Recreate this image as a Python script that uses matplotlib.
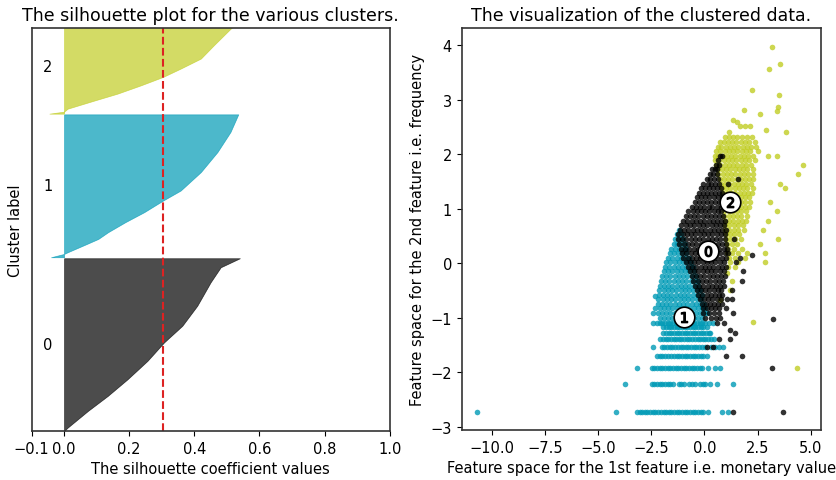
import matplotlib
matplotlib.use("Agg")
import matplotlib.pyplot as plt
import numpy as np

# silhouette profiles (sorted values), y = sample rank
sil0_y = [0, 34, 200, 350, 517, 700, 884, 1050, 1250, 1484, 1634, 1724]
sil0_v = [0.0, 0.011, 0.073, 0.134, 0.195, 0.256, 0.307, 0.363, 0.409, 0.450, 0.481, 0.540]
sil1_y = [1734, 1767, 1784, 1867, 1917, 1984, 2084, 2184, 2300, 2400, 2584, 2784, 2984, 3160]
sil1_v = [-0.04, 0.0, 0.011, 0.07, 0.105, 0.135, 0.188, 0.246, 0.304, 0.358, 0.420, 0.471, 0.511, 0.535]
sil2_y = [3167, 3187, 3217, 3300, 3367, 3450, 3534, 3617, 3717, 3850, 4017, 4117]
sil2_v = [-0.045, 0.0, 0.011, 0.095, 0.164, 0.236, 0.304, 0.358, 0.42, 0.46, 0.512, 0.55]
silhouette_avg = 0.304

# scatter points, grouped by the (discrete) frequency value: (y, [x, ...])
black_rows = [
    (1.97, [0.74, 0.82]), (1.89, [0.65]), (1.80, [0.55, 0.7]), (1.72, [0.35, 0.5, 0.6]),
    (1.63, [0.25, 0.42, 0.58]), (1.55, [0.1, 0.28, 0.45, 0.62, 1.6]),
    (1.46, [-0.05, 0.15, 0.33, 0.5, 0.7, 1.13]),
    (1.38, [-0.15, 0.05, 0.22, 0.42, 0.6, 0.78]),
    (1.29, [-0.25, -0.05, 0.14, 0.33, 0.52, 0.7, 0.85]),
    (1.21, [-0.35, -0.15, 0.05, 0.24, 0.44, 0.62, 0.82]),
    (1.12, [-0.45, -0.26, -0.06, 0.13, 0.33, 0.52, 0.7, 0.9]),
    (1.04, [-0.6, -0.4, -0.2, 0.0, 0.2, 0.38, 0.58, 0.76, 0.9]),
    (0.95, [-0.75, -0.55, -0.36, -0.16, 0.04, 0.24, 0.43, 0.62, 0.8]),
    (0.87, [-0.88, -0.68, -0.48, -0.28, -0.08, 0.12, 0.32, 0.52, 0.7, 0.88]),
    (0.78, [-1.0, -0.8, -0.6, -0.4, -0.2, 0.0, 0.2, 0.4, 0.6, 0.78, 0.95]),
    (0.70, [-1.08, -0.88, -0.68, -0.48, -0.27, -0.07, 0.14, 0.34, 0.54, 0.74, 0.92]),
    (0.61, [-1.15, -0.95, -0.75, -0.55, -0.35, -0.15, 0.05, 0.25, 0.45, 0.65, 0.85, 1.0]),
    (0.53, [-1.22, -1.02, -0.82, -0.62, -0.42, -0.22, -0.02, 0.18, 0.38, 0.58, 0.78, 0.98]),
    (0.44, [-1.25, -1.05, -0.85, -0.65, -0.45, -0.25, -0.05, 0.15, 0.35, 0.55, 0.75, 0.95, 1.37]),
    (0.36, [-1.18, -0.98, -0.78, -0.58, -0.38, -0.18, 0.02, 0.22, 0.42, 0.62, 0.82, 1.02]),
    (0.27, [-1.1, -0.9, -0.7, -0.5, -0.3, -0.1, 0.1, 0.3, 0.5, 0.7, 0.9, 1.08]),
    (0.19, [-1.05, -0.85, -0.65, -0.45, -0.25, -0.05, 0.15, 0.35, 0.55, 0.75, 0.95, 1.1]),
    (0.15, [2.23]),
    (0.10, [-0.99, -0.79, -0.59, -0.39, -0.19, 0.01, 0.21, 0.41, 0.61, 0.81, 1.0, 1.68]),
    (0.02, [-0.88, -0.68, -0.48, -0.28, -0.08, 0.12, 0.32, 0.52, 0.72, 0.92, 1.5]),
    (-0.07, [-0.78, -0.58, -0.38, -0.18, 0.02, 0.22, 0.42, 0.62, 0.82, 1.0]),
    (-0.15, [-0.68, -0.48, -0.28, -0.08, 0.12, 0.32, 0.52, 0.72, 0.9, 1.83]),
    (-0.24, [-0.6, -0.4, -0.2, 0.0, 0.2, 0.4, 0.6, 0.8, 0.95]),
    (-0.32, [-0.52, -0.32, -0.12, 0.08, 0.28, 0.48, 0.68, 0.86, 1.76]),
    (-0.41, [-0.45, -0.25, -0.05, 0.15, 0.35, 0.55, 0.75, 0.9]),
    (-0.49, [-0.37, -0.17, 0.03, 0.23, 0.43, 0.63, 0.8, 1.3]),
    (-0.58, [-0.3, -0.1, 0.1, 0.3, 0.5, 0.7, 0.85]),
    (-0.66, [-0.22, -0.02, 0.18, 0.38, 0.58, 0.76, 1.05, 1.29]),
    (-0.75, [-0.12, 0.08, 0.28, 0.46, 0.66, 0.85]),
    (-0.83, [-0.06, 0.12, 0.3, 0.5, 0.7, 1.0]),
    (-0.92, [-0.05, 0.2, 0.45, 0.7, 1.36]),
    (-1.00, [0.05, 0.3, 0.55, 0.75]), (-1.02, [3.24]), (-1.09, [0.6, 0.9]),
    (-1.22, [1.21]), (-1.28, [1.44]), (-1.39, [0.68, 1.21]), (-1.54, [0.14, 0.42]),
    (-1.70, [1.02, 1.79]), (-1.92, [3.17]), (-2.73, [1.36, 3.71]),
]

yellow_rows = [
    (3.97, [3.20]), (3.65, [3.56]), (3.57, [3.06]), (3.17, [2.24]), (3.08, [3.51]),
    (2.86, [3.45]), (2.81, [1.85]), (2.79, [3.40]), (2.73, [2.62]), (2.63, [1.36]),
    (2.60, [1.52]), (2.51, [1.68, 1.91, 2.15]), (2.45, [2.90]), (2.40, [1.18, 3.83]),
    (2.31, [0.95, 1.15, 1.35, 1.55, 1.78, 2.0, 2.25]),
    (2.23, [0.74, 0.92, 1.1, 1.3, 1.5, 1.7, 1.9, 2.1, 2.4]),
    (2.14, [0.62, 0.8, 1.0, 1.2, 1.4, 1.6, 1.8, 2.0, 2.2, 2.45]),
    (2.06, [0.55, 0.75, 0.95, 1.15, 1.35, 1.55, 1.75, 1.95, 2.15, 2.5]),
    (1.97, [0.48, 0.66, 0.86, 1.06, 1.26, 1.46, 1.66, 1.86, 2.06, 2.3, 3.0, 3.4]),
    (1.89, [0.5, 0.7, 0.9, 1.1, 1.3, 1.5, 1.7, 1.9, 2.1, 2.38]),
    (1.80, [0.55, 0.75, 0.95, 1.15, 1.35, 1.55, 1.75, 1.95, 2.2, 4.65]),
    (1.72, [0.62, 0.82, 1.02, 1.22, 1.42, 1.62, 1.82, 2.02, 2.3]),
    (1.63, [0.66, 0.86, 1.06, 1.26, 1.46, 1.66, 1.86, 2.06, 2.28, 4.42]),
    (1.55, [0.72, 0.92, 1.12, 1.32, 1.52, 1.72, 1.92, 2.12, 2.3]),
    (1.46, [0.78, 0.98, 1.18, 1.38, 1.58, 1.78, 1.98, 2.2, 3.56]),
    (1.38, [0.82, 1.02, 1.22, 1.42, 1.62, 1.82, 2.02, 2.28, 3.79]),
    (1.29, [0.86, 1.06, 1.26, 1.46, 1.66, 1.86, 2.06, 2.25]),
    (1.21, [0.9, 1.1, 1.3, 1.5, 1.7, 1.9, 2.1]),
    (1.12, [0.92, 1.12, 1.32, 1.52, 1.72, 1.92, 2.15, 3.09]),
    (1.04, [0.92, 1.12, 1.32, 1.52, 1.72, 1.92, 2.12]),
    (0.95, [0.94, 1.14, 1.34, 1.54, 1.74, 1.94, 3.40]),
    (0.87, [0.94, 1.14, 1.34, 1.54, 1.74, 2.0]),
    (0.78, [0.96, 1.16, 1.36, 1.56, 1.76, 1.98, 3.01]),
    (0.70, [0.98, 1.18, 1.38, 1.58, 1.8]),
    (0.61, [0.98, 1.18, 1.38, 1.58, 1.85, 2.77]),
    (0.53, [1.0, 1.2, 1.4, 1.62]),
    (0.44, [1.0, 1.2, 1.45, 1.7, 3.48]),
    (0.36, [1.05, 1.3, 1.55, 2.62]),
    (0.27, [1.1, 1.4, 1.75]),
    (0.19, [1.05, 1.3, 1.6, 2.0, 2.85]),
    (0.10, [1.15, 1.45, 1.9]),
    (0.02, [1.2, 1.6, 2.85]),
    (-0.07, [1.1, 1.45]), (-0.18, [1.05]), (-0.32, [1.3]), (-0.49, [1.21]),
    (-0.67, [0.74]), (-1.07, [2.30]), (-1.92, [4.34]),
]

cyan_rows = [
    (0.61, [-1.2]), (0.53, [-1.3, -1.12]), (0.44, [-1.38, -1.2, -1.02]),
    (0.36, [-1.45, -1.27, -1.08, -0.9]),
    (0.27, [-1.55, -1.36, -1.17, -0.98, -0.85]),
    (0.19, [-1.6, -1.42, -1.23, -1.04, -0.85]),
    (0.10, [-1.7, -1.5, -1.3, -1.1, -0.9, -0.72]),
    (0.02, [-1.8, -1.6, -1.4, -1.2, -1.0, -0.8, -0.62]),
    (-0.07, [-1.85, -1.65, -1.45, -1.25, -1.05, -0.85, -0.65, -0.52]),
    (-0.15, [-1.9, -1.7, -1.5, -1.3, -1.1, -0.9, -0.7, -0.48]),
    (-0.24, [-2.0, -1.8, -1.6, -1.4, -1.2, -1.0, -0.8, -0.6, -0.4]),
    (-0.32, [-2.05, -1.85, -1.65, -1.45, -1.25, -1.05, -0.85, -0.65, -0.45, -0.3]),
    (-0.41, [-2.1, -1.9, -1.7, -1.5, -1.3, -1.1, -0.9, -0.7, -0.5, -0.28]),
    (-0.49, [-2.12, -1.92, -1.72, -1.52, -1.32, -1.12, -0.92, -0.72, -0.52, -0.32, -0.2]),
    (-0.58, [-2.15, -1.95, -1.75, -1.55, -1.35, -1.15, -0.95, -0.75, -0.55, -0.35, -0.12]),
    (-0.61, [-2.32]),
    (-0.66, [-2.16, -1.96, -1.76, -1.56, -1.36, -1.16, -0.96, -0.76, -0.56, -0.36, -0.16]),
    (-0.75, [-2.2, -2.0, -1.8, -1.6, -1.4, -1.2, -1.0, -0.8, -0.6, -0.4, -0.2, 0.0]),
    (-0.83, [-2.3, -2.1, -1.9, -1.7, -1.5, -1.3, -1.1, -0.9, -0.7, -0.5, -0.3, -0.1, 0.05]),
    (-0.92, [-2.4, -2.2, -2.0, -1.8, -1.6, -1.4, -1.2, -1.0, -0.8, -0.6, -0.4, -0.2, 0.0, 0.1]),
    (-1.00, [-2.1, -1.9, -1.7, -1.5, -1.3, -1.1, -0.9, -0.7, -0.5, -0.3, -0.1]),
    (-1.09, [-2.4, -2.25, -2.1, -1.98, -1.85, -1.72, -1.6, -1.48, -1.35, -1.22, -1.1,
             -0.98, -0.85, -0.72, -0.6, -0.48, -0.35, -0.22, -0.1, 0.05, 0.2, 0.42]),
    (-1.17, [-1.93, -1.8, -1.68, -1.55, -1.42, -1.3, -1.18, -1.05, -0.92, -0.8, -0.68,
             -0.55, -0.42, -0.3, -0.18, -0.05, 0.11]),
    (-1.28, [-1.93, -1.8, -1.68, -1.55, -1.42, -1.3, -1.18, -1.05, -0.92, -0.8, -0.68,
             -0.55, -0.42, -0.3, -0.18, -0.05, 0.08, 0.2, 0.27]),
    (-1.39, [-2.08, -1.95, -1.82, -1.7, -1.58, -1.45, -1.32, -1.2, -1.08, -0.95, -0.82,
             -0.7, -0.58, -0.45, -0.32, -0.2, -0.08, 0.05, 0.18, 0.3, 0.43]),
    (-1.54, [-2.4, -2.0, -1.88, -1.75, -1.62, -1.5, -1.38, -1.25, -1.12, -1.0, -0.88,
             -0.75, -0.62, -0.5, -0.38, -0.25, -0.12, 0.05, 0.3, 0.5, 0.7, 0.89]),
    (-1.70, [-2.24, -2.1, -1.98, -1.85, -1.72, -1.55, -1.42, -1.3, -1.18, -1.05, -0.92,
             -0.8, -0.68, -0.55, -0.42, -0.3, -0.18, -0.05, 0.11]),
    (-1.92, [-3.15, -2.47, -2.35, -2.22, -2.1, -1.98, -1.85, -1.72, -1.6, -1.48, -1.35,
             -1.22, -1.1, -0.98, -0.85, -0.72, -0.6, -0.47, -0.35, -0.22, -0.12, 0.19, 0.50, 0.74]),
    (-2.22, [-3.73, -2.47, -2.35, -2.22, -2.1, -1.98, -1.85, -1.72, -1.6, -1.48, -1.2,
             -1.08, -0.95, -0.7, -0.58, -0.45, -0.2, -0.08, 0.05, 0.27, 0.58, 1.36]),
    (-2.73, [-10.67, -4.15, -3.18, -3.05, -2.92, -2.8, -2.68, -2.55, -2.42, -2.3, -2.17,
             -2.05, -1.92, -1.8, -1.68, -1.55, -1.42, -1.3, -1.18, -1.05, -0.92, -0.8,
             -0.68, -0.55, -0.42, -0.3, -0.18, -0.05, 0.19, 0.82, 1.13]),
]

centers_x = [0.17, -0.95, 1.21]
centers_y = [0.23, -0.99, 1.13]

cluster_colors = ['#000000', '#009ab6', '#c1cd24']
n_clusters = 3


def unpack(rows):
    xs, ys = [], []
    for y, row in rows:
        xs += row
        ys += [y] * len(row)
    return np.array(xs), np.array(ys)


fig = plt.figure(figsize=(8.36, 4.81), dpi=100)
ax1 = fig.add_axes([0.0377, 0.1019, 0.4284, 0.8368])
ax2 = fig.add_axes([0.5523, 0.104, 0.4294, 0.835])

# left: silhouette plot
profiles = [(sil0_y, sil0_v), (sil1_y, sil1_v), (sil2_y, sil2_v)]
for i, (ys, vs) in enumerate(profiles):
    color = cluster_colors[i]
    ax1.fill_betweenx(ys, 0, vs, facecolor=color, edgecolor=color, alpha=0.7, lw=0.5)
    ax1.text(-0.05, (ys[0] + ys[-1]) / 2, str(i), fontsize=10.5, ha='center', va='center')

ax1.axvline(x=silhouette_avg, color="#dd2222", linestyle="--", lw=1.5)
ax1.set_xlim([-0.1, 1])
ax1.set_ylim([0, 4017])
ax1.set_yticks([])
ax1.set_xticks([-0.1, 0, 0.2, 0.4, 0.6, 0.8, 1])
ax1.set_title("The silhouette plot for the various clusters.", fontsize=12.5)
ax1.set_xlabel("The silhouette coefficient values", fontsize=10.5)
ax1.set_ylabel("Cluster label", fontsize=10.5, labelpad=6)

# right: clustered data
for i, rows in [(1, cyan_rows), (2, yellow_rows), (0, black_rows)]:
    xs, ys = unpack(rows)
    ax2.scatter(xs, ys, marker='.', s=65, lw=0, alpha=0.8, c=cluster_colors[i])

ax2.scatter(centers_x, centers_y, marker='o', c="white", alpha=1, s=220, edgecolor='k', lw=1.2, zorder=3)
for i in range(n_clusters):
    ax2.scatter(centers_x[i], centers_y[i], marker='$%d$' % i, alpha=1, s=55, c='k', zorder=4)

ax2.set_xlim(-11.41, 5.47)
ax2.set_ylim(-3.06, 4.31)
ax2.set_title("The visualization of the clustered data.", fontsize=12.5)
ax2.set_xlabel("Feature space for the 1st feature i.e. monetary value", fontsize=10.5)
ax2.set_ylabel("Feature space for the 2nd feature i.e. frequency", fontsize=10.5)

for ax in (ax1, ax2):
    ax.tick_params(labelsize=10.5)
    for sp in ax.spines.values():
        sp.set_linewidth(1.2)
        sp.set_color('#333333')

fig.savefig("out.png", dpi=100)
